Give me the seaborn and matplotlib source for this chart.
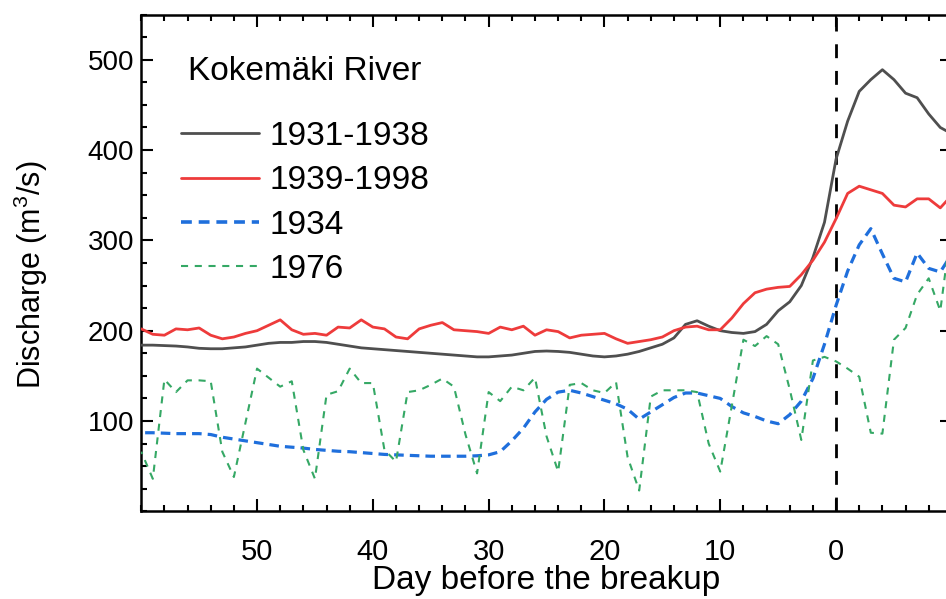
import matplotlib
matplotlib.use("Agg")
import matplotlib.pyplot as plt
from matplotlib import font_manager
from matplotlib.ticker import MultipleLocator, FixedLocator
from matplotlib.lines import Line2D
import numpy as np
import pandas as pd
import seaborn as sns

# Days before the ice breakup (0 = breakup day, negative = after)
days = list(range(60, -11, -1))

# Mean and single-year discharge (m3/s)
q_1931_1938 = [184, 184, 183.5, 183, 182, 180.5, 180, 180, 181, 182,
               184, 186, 187, 187, 188, 188, 187, 185, 183, 181,
               180, 179, 178, 177, 176, 175, 174, 173, 172, 171,
               171, 172, 173, 175, 177, 177.5, 177, 176, 174, 172,
               171, 172, 174, 177, 181, 185, 192, 207, 211, 205,
               200, 198, 197, 199, 207, 222, 232, 250, 281, 320,
               390, 432, 465, 478, 489, 478, 463, 458, 440, 425, 418]
q_1939_1998 = [202, 196, 195, 202, 201, 203, 195, 191, 193, 197,
               200, 206, 212, 201, 196, 197, 195, 204, 203, 212,
               204, 202, 193, 191, 202, 206, 209, 201, 200, 199,
               197, 204, 201, 205, 195, 201, 199, 192, 195, 196,
               197, 191, 186, 188, 190, 193, 200, 204, 205, 201,
               201, 214, 230, 242, 246, 248, 249, 262, 278, 298,
               324, 352, 360, 356, 352, 339, 337, 346, 346, 336, 350]
q_1934 = [87, 87, 86.5, 86, 86, 86, 85, 82, 80, 78,
          76, 74, 72, 71, 70, 68.5, 67.5, 66.5, 66, 65,
          64, 63, 62.5, 62, 61.5, 61, 61, 61, 61, 61.5,
          62.5, 66, 78, 92, 110, 124, 132, 134, 131, 127,
          123, 119, 113, 102, 110, 118, 126, 131, 131, 128,
          125, 116, 109, 105, 100, 97, 107, 122, 147, 185,
          228, 266, 295, 313, 285, 258, 254, 286, 269, 265, 285]
q_1976 = [66, 36, 146, 132, 145, 145, 144, 66, 38, 98,
          158, 148, 138, 144, 68, 36, 129, 133, 158, 142,
          142, 68, 55, 132, 134, 140, 147, 138, 85, 42,
          132, 122, 138, 134, 148, 83, 44, 140, 142, 134,
          131, 143, 60, 23, 127, 134, 134, 134, 132, 75,
          44, 117, 190, 183, 194, 185, 135, 79, 167, 171,
          166, 158, 149, 87, 86, 190, 203, 240, 258, 222, 320]

series_names = ["1931-1938", "1939-1998", "1934", "1976"]
series_values = [q_1931_1938, q_1939_1998, q_1934, q_1976]
legend_title = "Kokemäki River"

df = pd.DataFrame({
    "day": days * len(series_names),
    "discharge": sum(series_values, []),
    "period": sum([[n] * len(days) for n in series_names], []),
})

sns.set_theme(style="ticks")
installed = {f.name for f in font_manager.fontManager.ttflist}
base_font = "Liberation Sans" if "Liberation Sans" in installed else "DejaVu Sans"
plt.rcParams["font.family"] = [base_font, "DejaVu Sans"]
plt.rcParams["mathtext.fontset"] = "custom"
plt.rcParams["mathtext.rm"] = base_font
plt.rcParams["text.color"] = "black"

styles = {
    "1931-1938": dict(color="#4f4f4f", lw=2.0, ls="-"),
    "1939-1998": dict(color="#ee3b3b", lw=2.0, ls="-"),
    "1934": dict(color="#1f6fdc", lw=2.3, ls=(0, (3.0, 1.9))),
    "1976": dict(color="#35a865", lw=1.5, ls=(0, (3.4, 3.2))),
}

fig = plt.figure(figsize=(9.46, 5.99), dpi=100)
ax = fig.add_axes([0.1493, 0.1464, 0.8569, 0.8292])

for name in series_names:
    st = styles[name]
    sns.lineplot(data=df[df["period"] == name], x="day", y="discharge", ax=ax,
                 color=st["color"], linewidth=st["lw"], linestyle=st["ls"],
                 legend=False, zorder=3)

# breakup day
ax.axvline(0, color="black", lw=2.0, ls=(0, (5.0, 4.6)), zorder=2)

ax.set_xlim(60, -10)
ax.set_ylim(0, 550)
ax.xaxis.set_major_locator(FixedLocator([50, 40, 30, 20, 10, 0]))
ax.xaxis.set_minor_locator(MultipleLocator(2))
ax.yaxis.set_major_locator(FixedLocator([100, 200, 300, 400, 500]))
ax.yaxis.set_minor_locator(MultipleLocator(25))

for side in ["top", "right", "bottom", "left"]:
    ax.spines[side].set_visible(True)
    ax.spines[side].set_linewidth(1.8)
    ax.spines[side].set_color("black")

ax.tick_params(which="both", direction="in", top=True, right=True, color="black", width=1.5)
ax.tick_params(which="major", length=8.5)
ax.tick_params(which="minor", length=4)
ax.tick_params(axis="y", which="major", labelsize=20, pad=5, labelcolor="black")
ax.tick_params(axis="x", which="major", labelsize=21, pad=19, labelcolor="black")

ax.set_xlabel("Day before the breakup", fontsize=24, color="black")
ax.xaxis.set_label_coords(0.5, -0.108)
ax.set_ylabel("Discharge (m$^3$/s)", fontsize=22, color="black")
ax.yaxis.set_label_coords(-0.112, 0.476)

handles = [Line2D([], [], color=styles[n]["color"],
                  lw=styles[n]["lw"] + 0.3 if n == "1934" else styles[n]["lw"],
                  ls=styles[n]["ls"]) for n in series_names]
fig.text(188 / 946, 1 - 71 / 599, legend_title, fontsize=24, va="center", ha="left")
leg = ax.legend(handles, series_names, loc="upper left", frameon=False,
                fontsize=24, handlelength=2.35, handletextpad=0.3,
                labelspacing=0.4, borderpad=0, borderaxespad=0,
                bbox_to_anchor=(181 / 946, 1 - 121 / 599), bbox_transform=fig.transFigure)

fig.savefig("out.png", dpi=100)
